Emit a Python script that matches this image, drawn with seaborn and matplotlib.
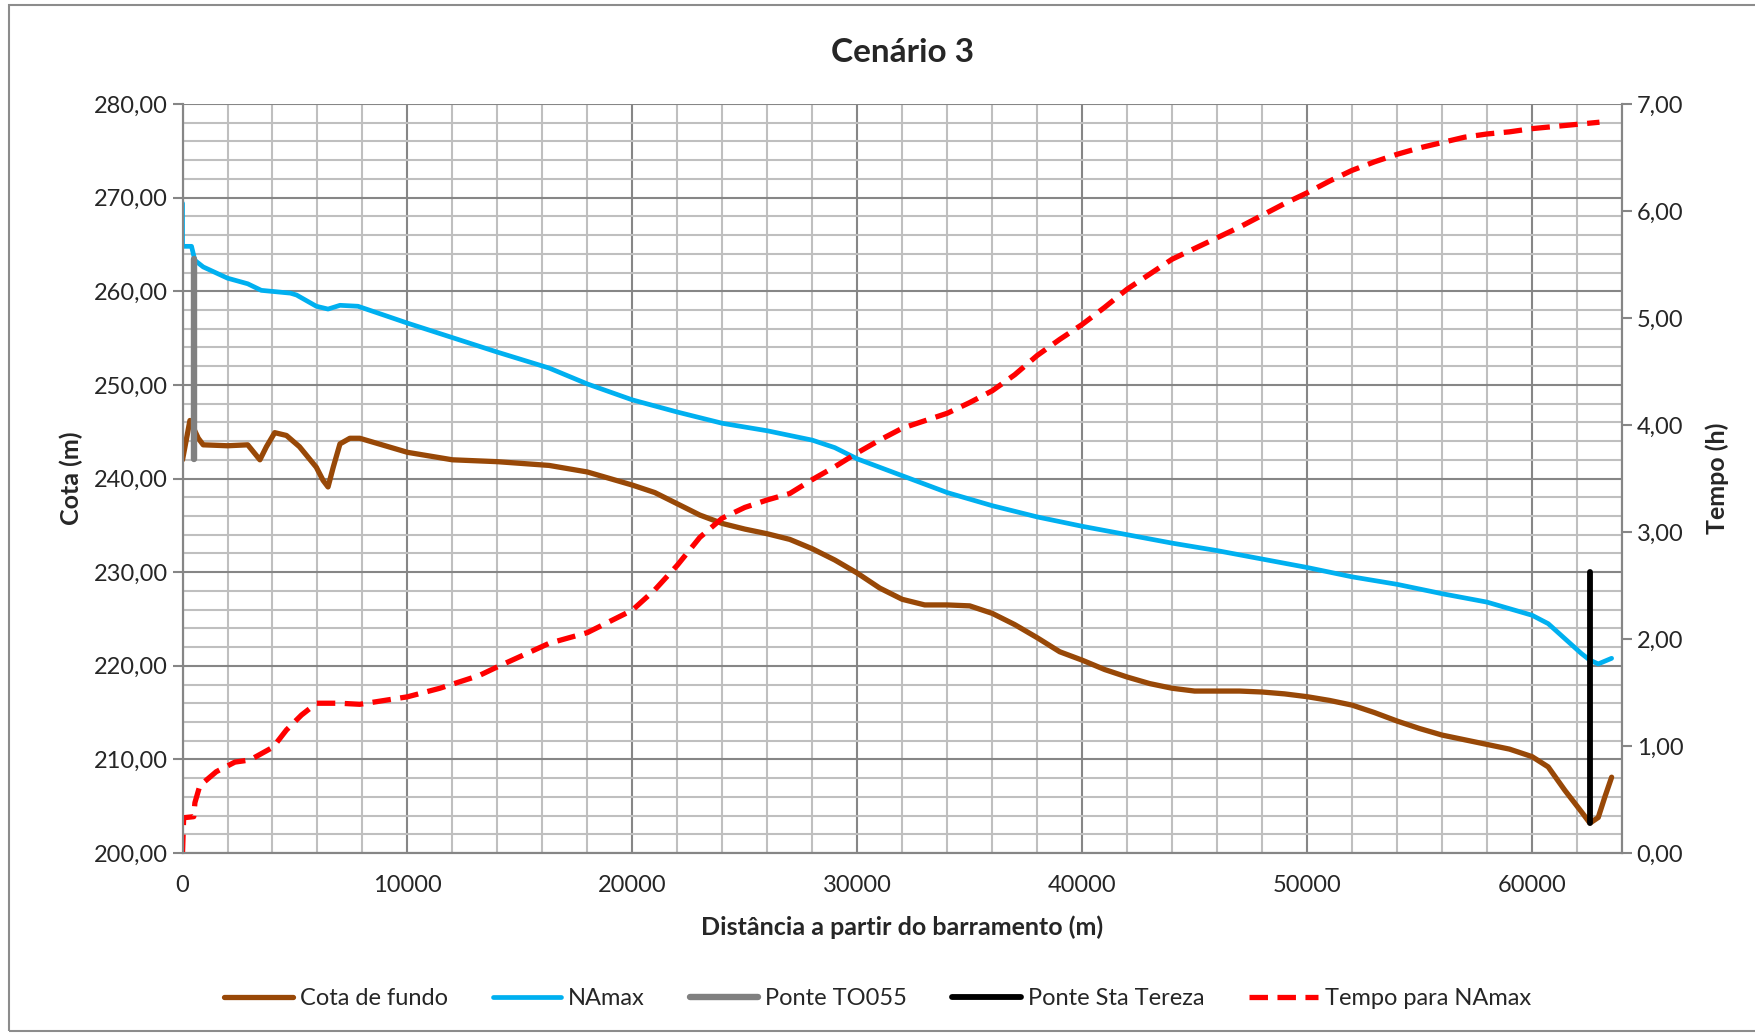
import numpy as np
import pandas as pd
import matplotlib
matplotlib.use('Agg')
import matplotlib.pyplot as plt
import matplotlib.ticker as mticker
import seaborn as sns

# Dados
dist_fundo = [0, 330, 700, 920, 2000, 2900, 3440, 3730, 4100, 4620, 5200, 5950, 6250, 6470,
              6700, 7000, 7440, 7880, 10000, 12000, 14000, 16300, 18000, 20000, 21000, 22000,
              23000, 24000, 25000, 26000, 27000, 28000, 29000, 30000, 31000, 32000, 33000,
              34000, 35000, 36000, 37000, 38000, 39000, 40000, 41000, 42000, 43000, 44000,
              45000, 46000, 47000, 48000, 49000, 50000, 51000, 52000, 53000, 54000, 55000,
              56000, 57000, 58000, 59000, 60000, 60720, 61460, 62200, 62575, 62945, 63240,
              63540]
cota_fundo = [242.0, 246.2, 244.3, 243.6, 243.5, 243.6, 242.0, 243.4, 244.9, 244.6, 243.4,
              241.2, 239.8, 239.1, 241.2, 243.7, 244.3, 244.3, 242.8, 242.0, 241.8, 241.4,
              240.7, 239.3, 238.5, 237.3, 236.1, 235.2, 234.6, 234.1, 233.5, 232.5, 231.3,
              229.9, 228.3, 227.1, 226.5, 226.5, 226.4, 225.6, 224.4, 223.0, 221.5, 220.6,
              219.6, 218.8, 218.1, 217.6, 217.3, 217.3, 217.3, 217.2, 217.0, 216.7, 216.3,
              215.8, 215.0, 214.1, 213.3, 212.6, 212.1, 211.6, 211.1, 210.3, 209.2, 206.7,
              204.4, 203.2, 203.8, 206.0, 208.1]

dist_na = [0, 0, 400, 550, 920, 2000, 2900, 3500, 4800, 5070, 5950, 6470, 7000, 7800, 10000,
           14000, 16300, 18000, 20000, 22000, 24000, 26000, 28000, 29000, 30000, 32000,
           34000, 36000, 38000, 40000, 42000, 44000, 46000, 48000, 50000, 52000, 54000,
           56000, 58000, 60000, 60720, 61460, 62200, 62575, 62945, 63540]
namax = [269.4, 264.8, 264.8, 263.3, 262.6, 261.4, 260.8, 260.1, 259.8, 259.6, 258.4, 258.1,
         258.5, 258.4, 256.6, 253.5, 251.8, 250.1, 248.4, 247.1, 245.9, 245.1, 244.1, 243.3,
         242.1, 240.3, 238.5, 237.1, 235.9, 234.9, 234.0, 233.1, 232.3, 231.4, 230.5, 229.5,
         228.7, 227.7, 226.8, 225.4, 224.5, 222.9, 221.3, 220.6, 220.2, 220.8]

ponte_to055_x = [500, 500]
ponte_to055_y = [242.1, 263.4]
ponte_sta_tereza_x = [62600, 62600]
ponte_sta_tereza_y = [203.2, 230.0]

dist_tempo = [0, 50, 500, 550, 770, 1500, 2330, 3000, 4030, 4620, 5290, 5960, 7000, 7880,
              10000, 11440, 13200, 14000, 16300, 18000, 20000, 21000, 22000, 23000, 24000,
              25000, 26000, 27000, 28000, 29000, 30000, 31000, 32000, 33000, 34000, 35000,
              36000, 37000, 38000, 39000, 40000, 41000, 42000, 43000, 44000, 45000, 46000,
              47000, 48000, 49000, 50000, 51000, 52000, 53000, 54000, 55000, 56000, 57000,
              58000, 59000, 60000, 62000, 63000]
tempo = [0.0, 0.33, 0.34, 0.47, 0.63, 0.76, 0.85, 0.87, 0.99, 1.15, 1.29, 1.40, 1.40, 1.39,
         1.46, 1.54, 1.66, 1.74, 1.96, 2.06, 2.27, 2.46, 2.69, 2.95, 3.13, 3.23, 3.30, 3.36,
         3.49, 3.61, 3.74, 3.86, 3.97, 4.04, 4.11, 4.21, 4.32, 4.47, 4.65, 4.80, 4.94, 5.10,
         5.27, 5.41, 5.55, 5.65, 5.75, 5.85, 5.96, 6.07, 6.17, 6.28, 6.38, 6.46, 6.53, 6.59,
         6.64, 6.69, 6.72, 6.74, 6.77, 6.81, 6.83]

sns.set_style('white')
plt.rcParams['font.family'] = ['Lato', 'DejaVu Sans']

fig = plt.figure(figsize=(17.55, 10.35), dpi=100)
ax = fig.add_axes([0.104, 0.1758, 0.8202, 0.7237])
ax2 = ax.twinx()

# Moldura da área do gráfico
fig.patches.append(plt.Rectangle((0.005, 0.004), 1.2, 0.991, transform=fig.transFigure,
                                 fill=False, edgecolor='#8c8c8c', linewidth=1.5))

sns.lineplot(x=dist_fundo, y=cota_fundo, ax=ax, color='#984807', linewidth=3.8,
             estimator=None, sort=False, label='Cota de fundo', legend=False)
sns.lineplot(x=dist_na, y=namax, ax=ax, color='#00B0F0', linewidth=3.4,
             estimator=None, sort=False, label='NAmax', legend=False)
sns.lineplot(x=ponte_to055_x, y=ponte_to055_y, ax=ax, color='#808080', linewidth=4.6,
             estimator=None, sort=False, label='Ponte TO055', legend=False,
             solid_capstyle='round')
sns.lineplot(x=ponte_sta_tereza_x, y=ponte_sta_tereza_y, ax=ax, color='black', linewidth=4.2,
             estimator=None, sort=False, label='Ponte Sta Tereza', legend=False,
             solid_capstyle='round')
sns.lineplot(x=dist_tempo, y=tempo, ax=ax2, color='#FF0000', linewidth=3.8,
             estimator=None, sort=False, label='Tempo para NAmax', legend=False,
             dashes=False)
ax2.lines[0].set_dashes([3.5, 1.8])

ax.set_xlim(0, 64000)
ax.set_ylim(200, 280)
ax2.set_ylim(0, 7)

ax.xaxis.set_major_locator(mticker.MultipleLocator(10000))
ax.xaxis.set_minor_locator(mticker.MultipleLocator(2000))
ax.yaxis.set_major_locator(mticker.MultipleLocator(10))
ax.yaxis.set_minor_locator(mticker.MultipleLocator(2))
ax2.yaxis.set_major_locator(mticker.MultipleLocator(1))

ax.yaxis.set_major_formatter(mticker.FuncFormatter(lambda v, p: f'{v:.2f}'.replace('.', ',')))
ax2.yaxis.set_major_formatter(mticker.FuncFormatter(lambda v, p: f'{v:.2f}'.replace('.', ',')))
ax.xaxis.set_major_formatter(mticker.FuncFormatter(lambda v, p: f'{int(v)}'))

ax.grid(which='major', color='#868686', linewidth=1.5)
ax.grid(which='minor', color='#BFBFBF', linewidth=1.5)
ax.set_axisbelow(True)

for a in (ax, ax2):
    for s in a.spines.values():
        s.set_color('#868686')
        s.set_linewidth(1.5)
    a.spines['top'].set_visible(False)

ax.tick_params(axis='both', which='major', labelsize=17, length=7, color='#868686', width=1.5)
ax.tick_params(axis='both', which='minor', length=0)
ax2.tick_params(axis='y', which='major', labelsize=17, length=7, color='#868686', width=1.5)
ax.tick_params(axis='x', pad=9)

ax.set_title('Cenário 3', fontsize=24, fontweight='bold', pad=30)
ax.set_xlabel('Distância a partir do barramento (m)', fontsize=18, fontweight='bold', labelpad=14)
ax.set_ylabel('Cota (m)', fontsize=18, fontweight='bold', labelpad=8)
ax2.set_ylabel('Tempo (h)', fontsize=18, fontweight='bold', labelpad=16)

handles = ax.get_lines()[:4] + ax2.get_lines()[:1]
labels = [h.get_label() for h in handles]
fig.legend(handles, labels, loc='center', bbox_to_anchor=(0.5, 0.035), ncol=5,
           frameon=False, fontsize=17, handlelength=2.9, columnspacing=1.9, handletextpad=0.3)

fig.savefig('out.png', dpi=100)
